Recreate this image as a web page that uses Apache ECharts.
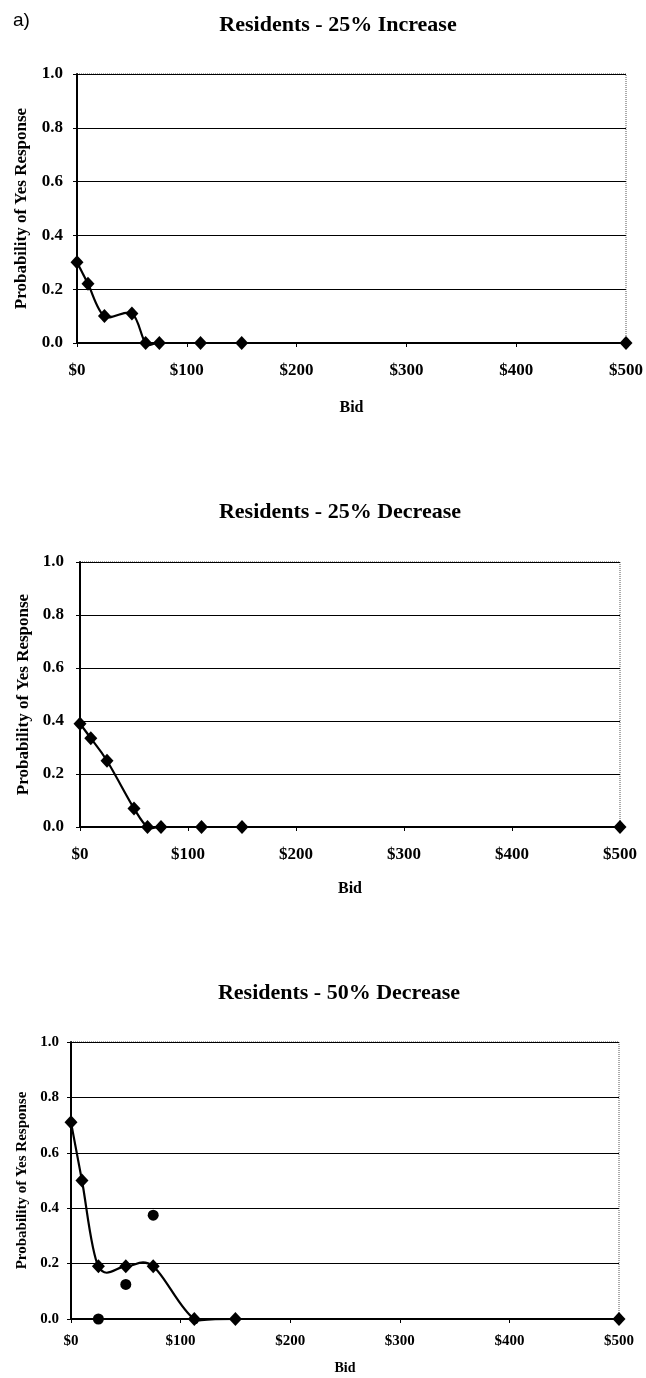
<!DOCTYPE html>
<html>
<head>
<meta charset="utf-8">
<script src="https://cdn.jsdelivr.net/npm/echarts@6/dist/echarts.min.js"></script>
<style>
html,body{margin:0;padding:0;background:#fff;}
#c{width:646px;height:1378px;}
</style>
</head>
<body>
<div id="c"></div>
<script>
// ---- data ----
const titles = ['Residents - 25% Increase', 'Residents - 25% Decrease', 'Residents - 50% Decrease'];
const bids1 = [0, 10, 25, 50, 62.5, 75, 112.5, 150, 500];
const inc25 = [0.30, 0.22, 0.10, 0.11, 0, 0, 0, 0, 0];
const bids2 = [0, 10, 25, 50, 62.5, 75, 112.5, 150, 500];
const dec25 = [0.39, 0.335, 0.25, 0.07, 0, 0, 0, 0, 0];
const bids3 = [0, 10, 25, 50, 75, 112.5, 150, 500];
const dec50 = [0.71, 0.50, 0.19, 0.19, 0.19, 0, 0, 0];
const bids3obs = [25, 50, 75];
const dec50obs = [0, 0.125, 0.375];
const xTicks = [0, 100, 200, 300, 400, 500];
const yTicks = [0.0, 0.2, 0.4, 0.6, 0.8, 1.0];

const SERIF = '"Liberation Serif","Times New Roman",serif';
const pairs = (xs, ys) => xs.map((x, i) => [x, ys[i]]);

const grids = [
  {left: 77, top: 74, width: 550, height: 269},
  {left: 80, top: 562, width: 540, height: 265},
  {left: 71, top: 1042, width: 548, height: 277}
];
const styles = [
  {lab: 17, labGap: 19, name: 16, nameGap: 57, yLab: 17, yLabGap: 14, yName: 17, yNameGap: 47},
  {lab: 17, labGap: 19, name: 16, nameGap: 54, yLab: 17, yLabGap: 16, yName: 17, yNameGap: 45},
  {lab: 15, labGap: 15, name: 14, nameGap: 42, yLab: 15, yLabGap: 12, yName: 15, yNameGap: 35}
];

// Smoothed (Catmull-Rom style) line drawn through the axes' own scale
function smoothLine(pts) {
  return function (params, api) {
    const i = params.dataIndex;
    if (i >= pts.length - 1) return null;
    const c = k => api.coord(pts[Math.max(0, Math.min(pts.length - 1, k))]);
    const p0 = c(i - 1), p1 = c(i), p2 = c(i + 1), p3 = c(i + 2);
    return {
      type: 'bezierCurve',
      shape: {
        x1: p1[0], y1: p1[1], x2: p2[0], y2: p2[1],
        cpx1: p1[0] + (p2[0] - p0[0]) / 6, cpy1: p1[1] + (p2[1] - p0[1]) / 6,
        cpx2: p2[0] - (p3[0] - p1[0]) / 6, cpy2: p2[1] - (p3[1] - p1[1]) / 6
      },
      style: {stroke: '#000', lineWidth: 2.2, fill: null}
    };
  };
}

const lineData = [pairs(bids1, inc25), pairs(bids2, dec25), pairs(bids3, dec50)];

const option = {
  animation: false,
  backgroundColor: '#fff',
  title: [
    {text: 'a)', left: 8, top: 6, textStyle: {fontFamily: '"Liberation Sans",Arial,sans-serif', fontWeight: 'normal', fontSize: 19, color: '#000'}},
    {text: titles[0], left: 333, top: 9, textAlign: 'center', textStyle: {fontFamily: SERIF, fontWeight: 'bold', fontSize: 22, color: '#000'}},
    {text: titles[1], left: 335, top: 496, textAlign: 'center', textStyle: {fontFamily: SERIF, fontWeight: 'bold', fontSize: 22, color: '#000'}},
    {text: titles[2], left: 334, top: 977, textAlign: 'center', textStyle: {fontFamily: SERIF, fontWeight: 'bold', fontSize: 22, color: '#000'}}
  ],
  grid: grids.map(g => Object.assign({show: true, borderColor: '#555', borderWidth: 1, borderType: 'dotted', backgroundColor: 'transparent'}, g)),
  xAxis: grids.map((g, i) => ({
    type: 'value', gridIndex: i, min: 0, max: 500, interval: 100,
    name: 'Bid', nameLocation: 'middle', nameGap: styles[i].nameGap,
    nameTextStyle: {fontFamily: SERIF, fontWeight: 'bold', fontSize: styles[i].name, color: '#000'},
    axisLine: {show: true, onZero: false, lineStyle: {color: '#000', width: 2}},
    axisTick: {show: true, inside: false, length: 4, lineStyle: {color: '#000', width: 1}},
    axisLabel: {margin: styles[i].labGap, fontFamily: SERIF, fontWeight: 'bold', fontSize: styles[i].lab, color: '#000',
      formatter: v => xTicks.includes(v) ? '$' + v : ''},
    splitLine: {show: false}
  })),
  yAxis: grids.map((g, i) => ({
    type: 'value', gridIndex: i, min: 0, max: 1, interval: 0.2,
    name: 'Probability of Yes Response', nameLocation: 'middle', nameGap: styles[i].yNameGap, nameRotate: 90,
    nameTextStyle: {fontFamily: SERIF, fontWeight: 'bold', fontSize: styles[i].yName, color: '#000'},
    axisLine: {show: true, lineStyle: {color: '#000', width: 2}},
    axisTick: {show: true, inside: false, length: 4, lineStyle: {color: '#000', width: 1}},
    axisLabel: {margin: styles[i].yLabGap, fontFamily: SERIF, fontWeight: 'bold', fontSize: styles[i].yLab, color: '#000',
      formatter: v => { const t = yTicks.find(k => Math.abs(k - v) < 1e-6); return t === undefined ? '' : t.toFixed(1); }},
    splitLine: {show: true, lineStyle: {color: '#000', width: 1.2}}
  })),
  series: [
    ...lineData.map((d, i) => ({
      type: 'custom', xAxisIndex: i, yAxisIndex: i, data: d, renderItem: smoothLine(d), z: 2, silent: true
    })),
    ...lineData.map((d, i) => ({
      type: 'scatter', xAxisIndex: i, yAxisIndex: i, data: d, symbol: 'diamond', symbolSize: [13, 14], z: 3,
      itemStyle: {color: '#000', opacity: 1}
    })),
    {type: 'scatter', xAxisIndex: 2, yAxisIndex: 2, data: pairs(bids3obs, dec50obs),
      symbol: 'circle', symbolSize: 11, z: 3, itemStyle: {color: '#000', opacity: 1}}
  ]
};

const chart = echarts.init(document.getElementById('c'), null, {renderer: 'canvas'});
chart.setOption(option);
</script>
</body>
</html>
